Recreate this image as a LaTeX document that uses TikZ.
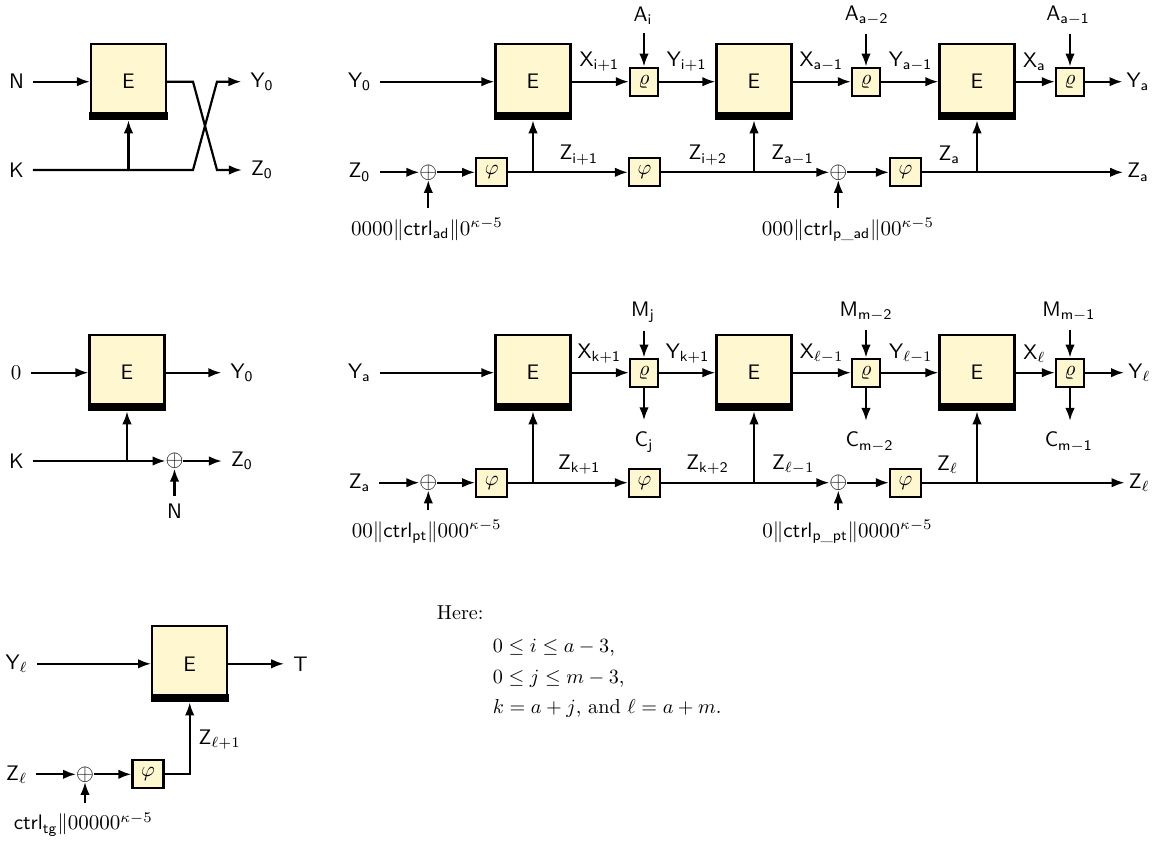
\documentclass[tikz,border=0pt]{standalone}
\usepackage{fontspec}
\usepackage{amsmath}
\usepackage{graphicx}
\usetikzlibrary{arrows.meta,calc}
\definecolor{boxfill}{RGB}{255,247,208}
\newcommand\bt[1]{\scalebox{2.1}{#1}}
\newcommand\btr[1]{\scalebox{2.02}{#1}}
\tikzset{
  ebox/.style={draw,line width=2.2pt,fill=boxfill,minimum width=75pt,minimum height=75pt,inner sep=0pt,font=\sffamily},
  rbox/.style={draw,line width=2.2pt,fill=boxfill,minimum width=28pt,minimum height=28pt,inner sep=0pt},
  pbox/.style={rbox,minimum width=31pt},
  lab/.style={inner xsep=9pt,inner ysep=8pt,font=\sffamily},
  rlab/.style={lab,inner xsep=4pt},
  clab/.style={lab,inner ysep=11pt},
  cst/.style={lab,inner ysep=10pt,font=\rmfamily},
  opl/.style={inner sep=0pt,outer sep=0pt},
  txt/.style={anchor=base west,inner sep=0pt,font=\rmfamily},
  arr/.style={line width=2.2pt,-{Latex[length=13pt,width=9.5pt]}},
}
\newcommand\ebarfill[1]{\fill ($(#1.south west)+(-0.5,0)$) rectangle ($(#1.south east)+(0.5,-8)$);}
\newcommand\opsym{\scalebox{2.3}{$\oplus$}}
\begin{document}
\begin{tikzpicture}[x=1pt,y=-1pt]
\useasboundingbox (0,0) rectangle (1162,845);

% ---------- top-left ----------
\node[lab] (tlN) at (16.5,81.7) {\bt{N}};
\node[lab] (tlK) at (16.5,170) {\bt{K}};
\node[ebox] (tlE) at (128.5,81.7) {\bt{E}};
\node[lab] (tlY) at (262,81.7) {\bt{$\mathsf{Y}_{\mathsf{0}}$}};
\node[lab] (tlZ) at (262,170) {\bt{$\mathsf{Z}_{\mathsf{0}}$}};
\coordinate (xa) at (193,81.7);
\coordinate (xb) at (217,170);
\coordinate (xc) at (193,170);
\coordinate (xd) at (217,81.7);
\draw[arr] (tlN.east |- tlE) -- (tlE.west);
\draw[arr] (tlE.east) -- (xa) -- (xb) -- (tlZ.west);
\draw[arr] (tlK.east) -- (xc) -- (xd) -- (tlY.west);
\draw[arr] (tlE.south |- tlK) -- (tlE.south);

% ---------- top row ----------
\node[lab] (tY0) at (359.5,81.7) {\bt{$\mathsf{Y}_{\mathsf{0}}$}};
\node[lab] (tZ0) at (359.5,172.3) {\bt{$\mathsf{Z}_{\mathsf{0}}$}};
\node[ebox] (tE1) at (533,81.7) {\bt{E}};
\node[ebox] (tE2) at (754,81.7) {\bt{E}};
\node[ebox] (tE3) at (977,81.7) {\bt{E}};
\node[rbox] (tr1) at (644,81.7) {\bt{$\varrho$}};
\node[rbox] (tr2) at (866,81.7) {\bt{$\varrho$}};
\node[rbox] (tr3) at (1070,81.7) {\bt{$\varrho$}};
\node[lab] (tA1) at (643,15.8) {\bt{$\mathsf{A}_{\mathsf{i}}$}};
\node[lab] (tA2) at (866.7,15.8) {\bt{$\mathsf{A}_{\mathsf{a-2}}$}};
\node[lab] (tA3) at (1068,15.8) {\bt{$\mathsf{A}_{\mathsf{a-1}}$}};
\node[lab] (tX1) at (599.3,61.8) {\bt{$\mathsf{X}_{\mathsf{i+1}}$}};
\node[lab] (tY1) at (686.7,61.8) {\bt{$\mathsf{Y}_{\mathsf{i+1}}$}};
\node[lab] (tX2) at (821.3,61.8) {\bt{$\mathsf{X}_{\mathsf{a-1}}$}};
\node[lab] (tY2) at (910.5,61.8) {\bt{$\mathsf{Y}_{\mathsf{a-1}}$}};
\node[lab] (tX3) at (1034.5,61.8) {\bt{$\mathsf{X}_{\mathsf{a}}$}};
\node[rlab] (tYa) at (1138,81.7) {\bt{$\mathsf{Y}_{\mathsf{a}}$}};
\node[rlab] (tZa) at (1138,172.3) {\bt{$\mathsf{Z}_{\mathsf{a}}$}};
\node[opl] (top1) at (428.3,172.3) {\opsym};
\node[opl] (top2) at (838.3,172.3) {\opsym};
\node[pbox] (tp1) at (491.7,172.3) {\bt{$\varphi$}};
\node[pbox] (tp2) at (644.5,172.3) {\bt{$\varphi$}};
\node[pbox] (tp3) at (905.5,172.3) {\bt{$\varphi$}};
\node[lab] (tZ1) at (578.8,155.1) {\bt{$\mathsf{Z}_{\mathsf{i+1}}$}};
\node[lab] (tZ2) at (707.7,155.1) {\bt{$\mathsf{Z}_{\mathsf{i+2}}$}};
\node[lab] (tZ3) at (792.5,155.1) {\bt{$\mathsf{Z}_{\mathsf{a-1}}$}};
\node[lab] (tZ4) at (949.2,155.1) {\bt{$\mathsf{Z}_{\mathsf{a}}$}};
\node[cst] (tc1) at (427,229.5) {\bt{$0000\|\mathsf{ctrl}_{\mathsf{ad}}\|0^{\kappa-5}$}};
\node[cst] (tc2) at (848,229.5) {\bt{$000\|\mathsf{ctrl}_{\mathsf{p\_ad}}\|00^{\kappa-5}$}};

\draw[arr] (tY0.east |- tE1) -- (tE1.west);
\draw[arr] (tE1.east) -- (tr1.west);
\draw[arr] (tr1.east) -- (tE2.west);
\draw[arr] (tE2.east) -- (tr2.west);
\draw[arr] (tr2.east) -- (tE3.west);
\draw[arr] (tE3.east) -- (tr3.west);
\draw[arr] (tr3.east) -- (tYa.west);
\draw[arr] (tA1.south -| tr1) -- (tr1.north);
\draw[arr] (tA2.south -| tr2) -- (tr2.north);
\draw[arr] (tA3.south -| tr3) -- (tr3.north);
\draw[arr] (tZ0.east) -- (top1.west);
\draw[arr] (top1.east) -- (tp1.west);
\draw[arr] (tp1.east) -- (tp2.west);
\draw[arr] (tp1.east -| tE1.south) -- (tE1.south);
\draw[arr] (tp2.east) -- (top2.west);
\draw[arr] (tp2.east -| tE2.south) -- (tE2.south);
\draw[arr] (top2.east) -- (tp3.west);
\draw[arr] (tp3.east) -- (tZa.west);
\draw[arr] (tp3.east -| tE3.south) -- (tE3.south);
\draw[arr] (tc1.north -| top1) -- (top1.south);
\draw[arr] (tc2.north -| top2) -- (top2.south);

% ---------- middle-left ----------
\node[lab] (ml0) at (16.2,372.7) {\bt{$0$}};
\node[ebox] (mlE) at (127,372.7) {\bt{E}};
\node[lab] (mlY) at (242,372.7) {\bt{$\mathsf{Y}_{\mathsf{0}}$}};
\node[lab] (mlK) at (16.3,461) {\bt{K}};
\node[opl] (mlop) at (174.5,461) {\opsym};
\node[lab] (mlZ) at (242,461) {\bt{$\mathsf{Z}_{\mathsf{0}}$}};
\node[lab] (mlN) at (174.5,511) {\bt{N}};
\draw[arr] (ml0.east |- mlE) -- (mlE.west);
\draw[arr] (mlE.east) -- (mlY.west);
\draw[arr] (mlK.east) -- (mlop.west);
\draw[arr] (mlE.south |- mlK) -- (mlE.south);
\draw[arr] (mlop.east) -- (mlZ.west);
\draw[arr] (mlN.north -| mlop) -- (mlop.south);

% ---------- middle row ----------
\node[lab] (mYa) at (359.5,372.7) {\bt{$\mathsf{Y}_{\mathsf{a}}$}};
\node[lab] (mZa) at (359.5,482.7) {\bt{$\mathsf{Z}_{\mathsf{a}}$}};
\node[ebox] (mE1) at (533,372.7) {\bt{E}};
\node[ebox] (mE2) at (754,372.7) {\bt{E}};
\node[ebox] (mE3) at (977,372.7) {\bt{E}};
\node[rbox] (mr1) at (644,372.7) {\bt{$\varrho$}};
\node[rbox] (mr2) at (866,372.7) {\bt{$\varrho$}};
\node[rbox] (mr3) at (1070,372.7) {\bt{$\varrho$}};
\node[lab] (mM1) at (643,312) {\bt{$\mathsf{M}_{\mathsf{j}}$}};
\node[lab] (mM2) at (866,312) {\bt{$\mathsf{M}_{\mathsf{m-2}}$}};
\node[lab] (mM3) at (1068.8,312) {\bt{$\mathsf{M}_{\mathsf{m-1}}$}};
\node[clab] (mC1) at (644,442) {\bt{$\mathsf{C}_{\mathsf{j}}$}};
\node[clab] (mC2) at (869.5,442) {\bt{$\mathsf{C}_{\mathsf{m-2}}$}};
\node[clab] (mC3) at (1068.7,442) {\bt{$\mathsf{C}_{\mathsf{m-1}}$}};
\node[lab] (mX1) at (599.3,353.4) {\bt{$\mathsf{X}_{\mathsf{k+1}}$}};
\node[lab] (mY1) at (687.5,353.4) {\bt{$\mathsf{Y}_{\mathsf{k+1}}$}};
\node[lab] (mX2) at (821.7,353.4) {\bt{$\mathsf{X}_{\ell-1}$}};
\node[lab] (mY2) at (910.8,353.4) {\bt{$\mathsf{Y}_{\ell-1}$}};
\node[lab] (mX3) at (1034.5,353.4) {\bt{$\mathsf{X}_{\ell}$}};
\node[rlab] (mYl) at (1139.3,372.7) {\bt{$\mathsf{Y}_{\ell}$}};
\node[rlab] (mZl) at (1139.3,482.7) {\bt{$\mathsf{Z}_{\ell}$}};
\node[opl] (mop1) at (428.3,482.7) {\opsym};
\node[opl] (mop2) at (838.3,482.7) {\opsym};
\node[pbox] (mp1) at (491.7,482.7) {\bt{$\varphi$}};
\node[pbox] (mp2) at (644.5,482.7) {\bt{$\varphi$}};
\node[pbox] (mp3) at (905.5,482.7) {\bt{$\varphi$}};
\node[lab] (mZ1) at (579.2,464.4) {\bt{$\mathsf{Z}_{\mathsf{k+1}}$}};
\node[lab] (mZ2) at (707.5,464.4) {\bt{$\mathsf{Z}_{\mathsf{k+2}}$}};
\node[lab] (mZ3) at (793.3,464.4) {\bt{$\mathsf{Z}_{\ell-1}$}};
\node[lab] (mZ4) at (947.5,464.4) {\bt{$\mathsf{Z}_{\ell}$}};
\node[cst] (mc1) at (426.7,531.8) {\bt{$00\|\mathsf{ctrl}_{\mathsf{pt}}\|000^{\kappa-5}$}};
\node[cst] (mc2) at (847.5,531.8) {\bt{$0\|\mathsf{ctrl}_{\mathsf{p\_pt}}\|0000^{\kappa-5}$}};

\draw[arr] (mYa.east |- mE1) -- (mE1.west);
\draw[arr] (mE1.east) -- (mr1.west);
\draw[arr] (mr1.east) -- (mE2.west);
\draw[arr] (mE2.east) -- (mr2.west);
\draw[arr] (mr2.east) -- (mE3.west);
\draw[arr] (mE3.east) -- (mr3.west);
\draw[arr] (mr3.east) -- (mYl.west);
\draw[arr] (mM1.south -| mr1) -- (mr1.north);
\draw[arr] (mM2.south -| mr2) -- (mr2.north);
\draw[arr] (mM3.south -| mr3) -- (mr3.north);
\draw[arr] (mr1.south) -- (mr1.south |- mC1.north);
\draw[arr] (mr2.south) -- (mr2.south |- mC2.north);
\draw[arr] (mr3.south) -- (mr3.south |- mC3.north);
\draw[arr] (mZa.east) -- (mop1.west);
\draw[arr] (mop1.east) -- (mp1.west);
\draw[arr] (mp1.east) -- (mp2.west);
\draw[arr] (mp1.east -| mE1.south) -- (mE1.south);
\draw[arr] (mp2.east) -- (mop2.west);
\draw[arr] (mp2.east -| mE2.south) -- (mE2.south);
\draw[arr] (mop2.east) -- (mp3.west);
\draw[arr] (mp3.east) -- (mZl.west);
\draw[arr] (mp3.east -| mE3.south) -- (mE3.south);
\draw[arr] (mc1.north -| mop1) -- (mop1.south);
\draw[arr] (mc2.north -| mop2) -- (mop2.south);

% ---------- bottom-left ----------
\node[lab] (blY) at (16.7,663.8) {\bt{$\mathsf{Y}_{\ell}$}};
\node[ebox] (blE) at (189.7,663.8) {\bt{E}};
\node[lab] (blT) at (300.5,663.8) {\bt{T}};
\node[lab] (blZ) at (16.7,774.3) {\bt{$\mathsf{Z}_{\ell}$}};
\node[opl] (blop) at (85,774.3) {\opsym};
\node[pbox] (blphi) at (148,774.3) {\bt{$\varphi$}};
\node[lab] (blZl) at (219.7,739.4) {\bt{$\mathsf{Z}_{\ell+1}$}};
\node[cst] (blc) at (83.3,824.5) {\bt{$\mathsf{ctrl}_{\mathsf{tg}}\|00000^{\kappa-5}$}};
\draw[arr] (blY.east |- blE) -- (blE.west);
\draw[arr] (blE.east) -- (blT.west);
\draw[arr] (blZ.east) -- (blop.west);
\draw[arr] (blop.east) -- (blphi.west);
\draw[arr] (blphi.east) -| (blE.south);
\draw[arr] (blc.north -| blop) -- (blop.south);

% ---------- bars under E ----------
\foreach \n in {tlE,tE1,tE2,tE3,mlE,mE1,mE2,mE3,blE} {\ebarfill{\n}}

% ---------- text ----------
\node[txt] (here) at (436.7,619.3) {\btr{Here:}};
\node[txt] (l1) at (492.7,652.7) {\btr{$0\le i\le a-3$,}};
\node[txt] (l2) at (492.7,683.3) {\btr{$0\le j\le m-3$,}};
\node[txt] (l3) at (492.7,713.3) {\btr{$k=a+j$, and $\ell=a+m$.}};
\end{tikzpicture}
\end{document}
